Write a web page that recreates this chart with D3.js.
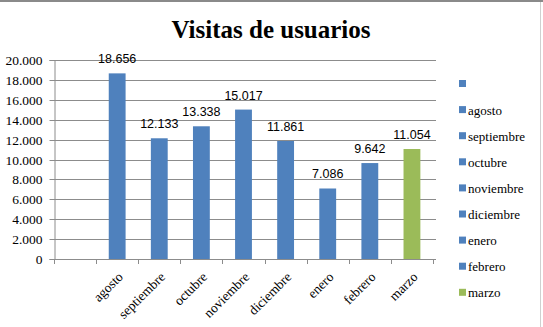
<!DOCTYPE html>
<html>
<head>
<meta charset="utf-8">
<script src="https://cdn.jsdelivr.net/npm/d3@7"></script>
<style>
  html, body { margin: 0; padding: 0; background: #fff; }
  svg { display: block; }
</style>
</head>
<body>
<svg id="chart" width="543" height="327"></svg>
<script>
// Monthly user visits; the first slot is an empty category
const categories = ["", "agosto", "septiembre", "octubre", "noviembre", "diciembre", "enero", "febrero", "marzo"];
const visits = [null, 18656, 12133, 13338, 15017, 11861, 7086, 9642, 11054];
const barColors = ["#4F81BD", "#4F81BD", "#4F81BD", "#4F81BD", "#4F81BD", "#4F81BD", "#4F81BD", "#4F81BD", "#9BBB59"];
const yTicks = [0, 2000, 4000, 6000, 8000, 10000, 12000, 14000, 16000, 18000, 20000];
const title = "Visitas de usuarios";

const fmt = d3.formatLocale({ decimal: ",", thousands: ".", grouping: [3], currency: ["", "€"] }).format(",d");

const svg = d3.select("#chart");
const W = 543, H = 327;
const plot = { left: 54, right: 433, top: 60, bottom: 259 };

const serif = "'Liberation Serif', 'DejaVu Serif', serif";
const sans = "'Liberation Sans', Arial, sans-serif";

// frame edges
svg.append("rect").attr("x", 0).attr("y", 0).attr("width", W).attr("height", 2).attr("fill", "#8a8a8a");
svg.append("line").attr("x1", 540.5).attr("x2", 540.5).attr("y1", 2).attr("y2", H)
  .attr("stroke", "#d0d0d0").attr("stroke-width", 1);

const x = d3.scaleBand().domain(categories).range([plot.left, plot.right]).paddingInner(0.6).paddingOuter(0.3);
const y = d3.scaleLinear().domain([0, 20000]).range([plot.bottom, plot.top]);

// horizontal gridlines
svg.append("g").selectAll("line").data(yTicks.filter(d => d > 0)).join("line")
  .attr("x1", plot.left).attr("x2", 436)
  .attr("y1", d => Math.round(y(d)) + 0.5).attr("y2", d => Math.round(y(d)) + 0.5)
  .attr("stroke", "#8c8c8c").attr("stroke-width", 1);

// y axis
const yAxis = svg.append("g").attr("transform", `translate(${plot.left + 0.5},0)`)
  .call(d3.axisLeft(y).tickValues(yTicks).tickFormat(fmt).tickSize(5).tickPadding(7));
yAxis.attr("font-family", serif);
yAxis.select(".domain").attr("stroke", "#8c8c8c");
yAxis.selectAll(".tick line").attr("stroke", "#8c8c8c");
yAxis.selectAll(".tick").attr("transform", d => `translate(0,${Math.round(y(d)) + 0.5})`);
yAxis.selectAll("text").attr("font-family", serif).attr("font-size", 13.5).attr("fill", "#000");

// bars
svg.append("g").selectAll("rect").data(categories.map((c, i) => ({ c, v: visits[i], col: barColors[i] })).filter(d => d.v != null))
  .join("rect")
  .attr("x", d => x(d.c)).attr("width", x.bandwidth())
  .attr("y", d => y(d.v)).attr("height", d => y(0) - y(d.v))
  .attr("fill", d => d.col);

// value labels
svg.append("g").selectAll("text").data(categories.map((c, i) => ({ c, v: visits[i] })).filter(d => d.v != null))
  .join("text")
  .attr("x", d => x(d.c) + x.bandwidth() / 2)
  .attr("y", d => y(d.v) - 10)
  .attr("text-anchor", "middle")
  .attr("font-family", sans).attr("font-size", 12.5).attr("fill", "#000")
  .text(d => fmt(d.v));

// x axis baseline and category ticks at band boundaries
const step = x.step();
const bounds = d3.range(categories.length + 1).map(i => plot.left + i * step);
svg.append("line").attr("x1", plot.left).attr("x2", 436)
  .attr("y1", plot.bottom + 0.5).attr("y2", plot.bottom + 0.5).attr("stroke", "#8c8c8c");
svg.append("g").selectAll("line").data(bounds).join("line")
  .attr("x1", d => Math.round(d) + 0.5).attr("x2", d => Math.round(d) + 0.5)
  .attr("y1", plot.bottom).attr("y2", plot.bottom + 5).attr("stroke", "#8c8c8c");

// rotated category labels
svg.append("g").selectAll("text").data(categories.filter(c => c !== "")).join("text")
  .attr("transform", c => `translate(${x(c) + x.bandwidth() / 2},${plot.bottom + 12}) rotate(-45)`)
  .attr("text-anchor", "end").attr("dy", "0.7em")
  .attr("font-family", serif).attr("font-size", 13.5).attr("fill", "#000")
  .text(c => c);

// title
svg.append("text").attr("x", 271).attr("y", 38).attr("text-anchor", "middle")
  .attr("font-family", serif).attr("font-weight", "bold").attr("font-size", 25).attr("fill", "#000")
  .text(title);

// legend
const legend = svg.append("g").selectAll("g").data(categories).join("g")
  .attr("transform", (d, i) => `translate(459,${84 + i * 26.1})`);
legend.append("rect").attr("x", 0).attr("y", -4).attr("width", 7).attr("height", 7)
  .attr("fill", (d, i) => barColors[i]);
legend.append("text").attr("x", 9).attr("y", 0).attr("dy", "0.35em")
  .attr("font-family", serif).attr("font-size", 13).attr("fill", "#000")
  .text(d => d);
</script>
</body>
</html>
